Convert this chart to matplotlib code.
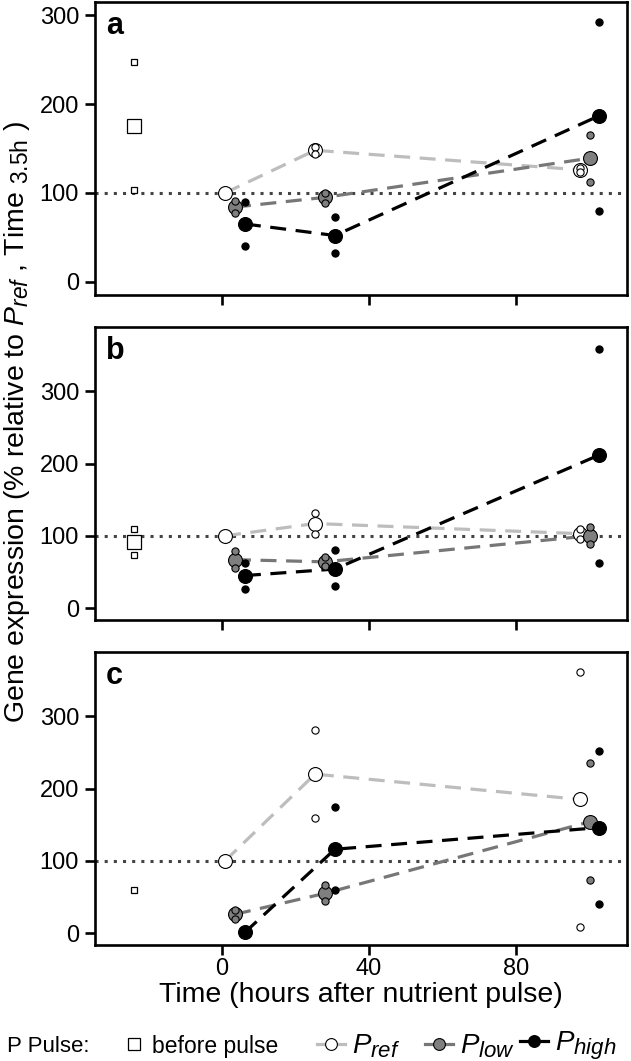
import numpy as np
import matplotlib
matplotlib.use("Agg")
import matplotlib.pyplot as plt
from matplotlib.lines import Line2D
import matplotlib._mathtext as mt

# R plotmath subscripts are a bit larger than matplotlib's default
mt.SHRINK_FACTOR = 0.8

plt.rcParams['font.family'] = ['Liberation Sans', 'DejaVu Sans']
plt.rcParams['mathtext.fontset'] = 'custom'
plt.rcParams['mathtext.rm'] = 'Liberation Sans'
plt.rcParams['mathtext.it'] = 'Liberation Sans:italic'

# sampling times (hours after pulse) and the pre-pulse sample
times = [3.5, 28, 100]
before_time = -24

# panel a
before_mean_a = [175]
before_reps_a = [247, 103]
pref_mean_a = [100, 148, 126]
pref_reps_a = [[], [152, 144], [128, 123]]
plow_mean_a = [84, 95, 139]
plow_reps_a = [[91, 77], [100, 89], [165, 112]]
phigh_mean_a = [65, 52, 187]
phigh_reps_a = [[90, 40], [73, 32], [293, 80]]

# panel b
before_mean_b = [91]
before_reps_b = [109, 74]
pref_mean_b = [100, 117, 103]
pref_reps_b = [[], [132, 102], [109, 96]]
plow_mean_b = [67, 64, 100]
plow_reps_b = [[79, 56], [71, 58], [112, 88]]
phigh_mean_b = [45, 54, 212]
phigh_reps_b = [[62, 27], [80, 30], [359, 63]]

# panel c
before_mean_c = []
before_reps_c = [59]
pref_mean_c = [100, 220, 185]
pref_reps_c = [[], [281, 159], [361, 8]]
plow_mean_c = [26, 55, 154]
plow_reps_c = [[32, 20], [67, 44], [235, 73]]
phigh_mean_c = [1, 116, 146]
phigh_reps_c = [[], [174, 60], [252, 40]]

panels = [
    ('a', (-15, 315), before_mean_a, before_reps_a,
     [(pref_mean_a, pref_reps_a), (plow_mean_a, plow_reps_a), (phigh_mean_a, phigh_reps_a)]),
    ('b', (-16.5, 389), before_mean_b, before_reps_b,
     [(pref_mean_b, pref_reps_b), (plow_mean_b, plow_reps_b), (phigh_mean_b, phigh_reps_b)]),
    ('c', (-16.5, 389), before_mean_c, before_reps_c,
     [(pref_mean_c, pref_reps_c), (plow_mean_c, plow_reps_c), (phigh_mean_c, phigh_reps_c)]),
]

# style per treatment: x offset, marker fill, line colour
offsets = [-2.7, 0, 2.7]
fills = ['white', '#7f7f7f', 'black']
line_cols = ['#bdbdbd', '#777777', 'black']
labels = ['$P_{ref}$', '$P_{low}$', '$P_{high}$']

W, H = 631, 1061
fig = plt.figure(figsize=(W / 100, H / 100), dpi=100)

def add_ax(left, top, right, bottom):
    return fig.add_axes([left / W, 1 - bottom / H, (right - left) / W, (bottom - top) / H])

boxes = [(95, 2, 627, 295), (95, 327, 627, 620), (95, 652, 627, 945)]
FS = 17

for i, (name, ylim, bmean, breps, groups) in enumerate(panels):
    ax = add_ax(*boxes[i])
    ax.set_xlim(-34.6, 110.2)
    ax.set_ylim(*ylim)
    ax.axhline(100, color='#444444', lw=2.2, ls=(0, (1, 2)), dash_capstyle='butt', zorder=1)

    # before pulse squares
    if bmean:
        ax.plot([before_time] * len(bmean), bmean, 's', ms=9.5, mfc='white',
                mec='black', mew=0.9, zorder=3)
    ax.plot([before_time] * len(breps), breps, 's', ms=4.8, mfc='white',
            mec='black', mew=0.9, zorder=4)

    for g, (mean, reps) in enumerate(groups):
        xs = [t + offsets[g] for t in times]
        ax.plot(xs, mean, color=line_cols[g], lw=2.3, ls=(0, (5, 3)), zorder=2)
        ax.plot(xs, mean, 'o', ms=10, mfc=fills[g], mec='black', mew=0.8,
                zorder=3 + 2 * g)
        rx = np.repeat(xs, [len(r) for r in reps])
        ry = np.concatenate([np.asarray(r, float) for r in reps])
        ax.plot(rx, ry, 'o', ms=5.2, mfc=fills[g], mec='black', mew=0.8,
                zorder=4 + 2 * g)

    for s in ax.spines.values():
        s.set_linewidth(1.9)
    ax.set_xticks([0, 40, 80])
    ax.set_yticks([0, 100, 200, 300])
    ax.tick_params(direction='out', length=7.5, width=1.9, labelsize=FS, pad=4)
    ax.tick_params(axis='x', pad=2)
    if i < 2:
        ax.tick_params(labelbottom=False)
    else:
        ax.set_xlabel('Time (hours after nutrient pulse)', fontsize=20.5, labelpad=1)
    ax.text(0.02, 0.97, name, transform=ax.transAxes, fontsize=22,
            fontweight='bold', va='top', ha='left')

fig.text(17 / W, 1 - 422 / H,
         'Gene expression (% relative to $P_{ref}$ , Time ${}_{\\mathrm{3.5h}}$ )',
         rotation=90, va='center', ha='center', fontsize=20.5)

# legend strip along the bottom
LY = 1 - 1046 / H
fig.text(7 / W, LY, 'P Pulse:', fontsize=16, va='center', ha='left')

def put_legend(handle, label, left_px, fs, pad_px):
    em = fs * 100 / 72
    fig.legend([handle], [label], loc='center left', bbox_to_anchor=(left_px / W, LY),
               frameon=False, fontsize=fs, handlelength=28 / em,
               handletextpad=pad_px / em, borderpad=0, borderaxespad=0)

put_legend(Line2D([], [], ls='none', marker='s', ms=8, mfc='white', mec='black', mew=0.9),
           'before pulse', 120, 16.5, 4)
lefts = [317, 425, 520]
for g in range(3):
    h = Line2D([], [], color=line_cols[g], lw=2.3, marker='o', ms=8.5,
               mfc=fills[g], mec='black', mew=0.8)
    put_legend(h, labels[g], lefts[g], 20, 7)

fig.savefig('out.png', dpi=100)
